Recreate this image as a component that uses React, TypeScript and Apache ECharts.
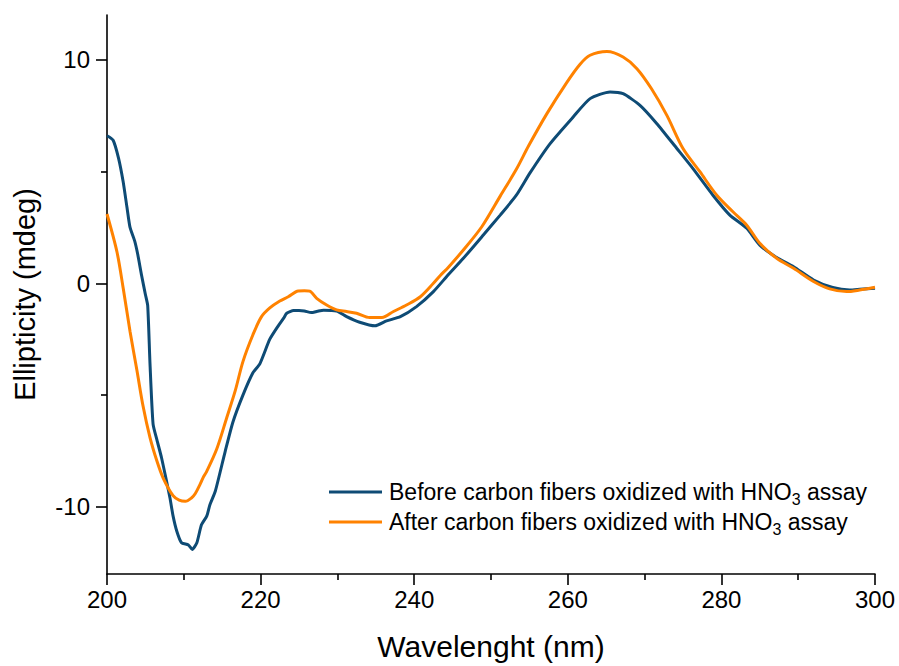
import React, { useEffect, useRef } from "react";
import * as echarts from "echarts";

const beforeName = "Before carbon fibers oxidized with HNO3 assay";
const afterName = "After carbon fibers oxidized with HNO3 assay";

const beforeWl = [200.0, 200.8, 201.5, 202.1, 202.6, 203.0, 203.6, 204.0, 204.5, 205.0, 205.3, 205.6, 206.0, 206.5, 207.1, 207.6, 208.2, 208.6, 209.1, 209.7, 210.6, 211.1, 211.7, 212.3, 213.0, 213.4, 214.1, 215.4, 216.4, 217.7, 219.0, 219.9, 221.2, 222.3, 223.0, 223.4, 224.3, 225.0, 225.7, 226.6, 227.4, 228.2, 229.9, 231.2, 232.9, 234.9, 236.4, 238.2, 240.3, 242.5, 244.4, 246.4, 249.0, 251.2, 253.3, 255.1, 257.7, 260.7, 262.9, 265.5, 267.2, 269.4, 271.6, 274.2, 276.3, 278.9, 281.1, 283.3, 285.0, 287.2, 289.4, 292.0, 294.5, 296.7, 298.0, 300.0];
const beforeVal = [6.6, 6.4, 5.6, 4.55, 3.4, 2.5, 1.9, 1.3, 0.36, -0.5, -1.0, -3.6, -6.3, -7.0, -7.8, -8.6, -9.6, -10.4, -11.1, -11.6, -11.7, -11.9, -11.6, -10.8, -10.4, -9.9, -9.3, -7.5, -6.2, -5.0, -4.0, -3.6, -2.5, -1.9, -1.56, -1.34, -1.22, -1.22, -1.24, -1.31, -1.25, -1.2, -1.24, -1.49, -1.74, -1.9, -1.68, -1.49, -1.04, -0.37, 0.37, 1.12, 2.16, 3.05, 3.94, 4.95, 6.25, 7.44, 8.26, 8.56, 8.48, 7.96, 7.14, 6.03, 5.13, 3.94, 3.05, 2.46, 1.71, 1.15, 0.74, 0.15, -0.19, -0.3, -0.27, -0.22];

const afterWl = [200.0, 201.3, 202.1, 203.0, 203.9, 204.7, 205.6, 206.5, 207.3, 208.6, 209.4, 210.2, 211.0, 211.5, 212.1, 212.5, 213.0, 214.3, 215.6, 216.7, 217.7, 219.0, 220.1, 221.2, 222.5, 223.6, 224.9, 225.7, 226.4, 227.3, 228.6, 229.9, 231.2, 232.5, 234.2, 235.8, 237.3, 239.0, 240.8, 242.5, 243.4, 244.4, 246.4, 248.8, 251.2, 253.3, 254.9, 257.3, 259.9, 261.6, 262.9, 265.1, 267.2, 269.0, 270.9, 272.9, 275.0, 277.2, 279.4, 281.5, 283.3, 285.0, 287.2, 289.4, 292.0, 294.1, 296.3, 298.0, 300.0];
const afterVal = [3.1, 1.4, -0.2, -2.15, -3.9, -5.5, -6.9, -7.95, -8.7, -9.5, -9.7, -9.75, -9.6, -9.4, -9.0, -8.7, -8.4, -7.4, -6.0, -4.8, -3.5, -2.3, -1.5, -1.1, -0.79, -0.6, -0.34, -0.33, -0.35, -0.67, -0.97, -1.19, -1.26, -1.34, -1.53, -1.53, -1.26, -0.97, -0.6, 0.0, 0.35, 0.7, 1.49, 2.53, 3.9, 5.1, 6.15, 7.6, 9.0, 9.8, 10.2, 10.37, 10.12, 9.6, 8.7, 7.51, 6.03, 4.99, 3.94, 3.2, 2.6, 1.79, 1.12, 0.67, 0.08, -0.25, -0.37, -0.3, -0.18];

const yMajorTicks = [-10, 0, 10];
const yMinorTicks = [-5, 5];

const FONT = "Liberation Sans, Arial, Helvetica, sans-serif";

export default function App() {
  const ref = useRef<HTMLDivElement>(null);
  useEffect(() => {
    if (!ref.current) return;
    const chart = echarts.init(ref.current, undefined, { renderer: "svg" });
    const axisLineStyle = { color: "#000", width: 1.6 };
    chart.setOption({
      animation: false,
      backgroundColor: "#fff",
      grid: { left: 107, right: 24, top: 15, bottom: 89, containLabel: false },
      legend: {
        orient: "vertical",
        left: 329,
        top: 477,
        padding: 0,
        itemWidth: 53,
        itemHeight: 3,
        itemGap: 0,
        icon: "rect",
        data: [beforeName, afterName],
        formatter: (n: string) => n.replace("HNO3", "HNO{sub|3}"),
        textStyle: {
          fontFamily: FONT,
          fontSize: 23,
          color: "#000",
          lineHeight: 30,
          padding: [0, 0, 0, 2],
          rich: {
            sub: { fontFamily: FONT, fontSize: 16, color: "#000", lineHeight: 18, verticalAlign: "bottom" },
          },
        },
      },
      xAxis: {
        type: "value",
        min: 200,
        max: 300,
        interval: 20,
        name: "Wavelenght (nm)",
        nameLocation: "middle",
        nameGap: 57,
        nameTextStyle: { fontFamily: FONT, fontSize: 30, color: "#000" },
        axisLine: { show: true, onZero: false, lineStyle: axisLineStyle },
        axisTick: { show: true, inside: false, length: 11, lineStyle: axisLineStyle },
        minorTick: { show: true, splitNumber: 2, length: 6, lineStyle: axisLineStyle },
        splitLine: { show: false },
        axisLabel: { fontFamily: FONT, fontSize: 24, color: "#000", margin: 13 },
      },
      yAxis: [
        {
          type: "value",
          min: -13,
          max: 12,
          name: "Ellipticity (mdeg)",
          nameLocation: "middle",
          nameGap: 68,
          nameTextStyle: { fontFamily: FONT, fontSize: 29, color: "#000" },
          axisLine: { show: true, onZero: false, lineStyle: axisLineStyle },
          axisTick: { show: true, length: 11, customValues: yMajorTicks, lineStyle: axisLineStyle },
          splitLine: { show: false },
          axisLabel: { fontFamily: FONT, fontSize: 24, color: "#000", margin: 17, customValues: yMajorTicks },
        },
        {
          type: "value",
          min: -13,
          max: 12,
          position: "left",
          axisLine: { show: false },
          axisTick: { show: true, length: 6, customValues: yMinorTicks, lineStyle: axisLineStyle },
          splitLine: { show: false },
          axisLabel: { show: false },
        },
      ],
      series: [
        {
          name: beforeName,
          type: "line",
          data: beforeWl.map((w, i) => [w, beforeVal[i]]),
          showSymbol: false,
          smooth: 0.2,
          lineStyle: { color: "#0e4b75", width: 3 },
          itemStyle: { color: "#0e4b75" },
        },
        {
          name: afterName,
          type: "line",
          data: afterWl.map((w, i) => [w, afterVal[i]]),
          showSymbol: false,
          smooth: 0.3,
          lineStyle: { color: "#ff8200", width: 3 },
          itemStyle: { color: "#ff8200" },
        },
      ],
    });
    return () => chart.dispose();
  }, []);
  return (
    <div
      ref={ref}
      style={{ position: "absolute", left: 0, top: 0, width: 899, height: 666, background: "#fff" }}
    />
  );
}
